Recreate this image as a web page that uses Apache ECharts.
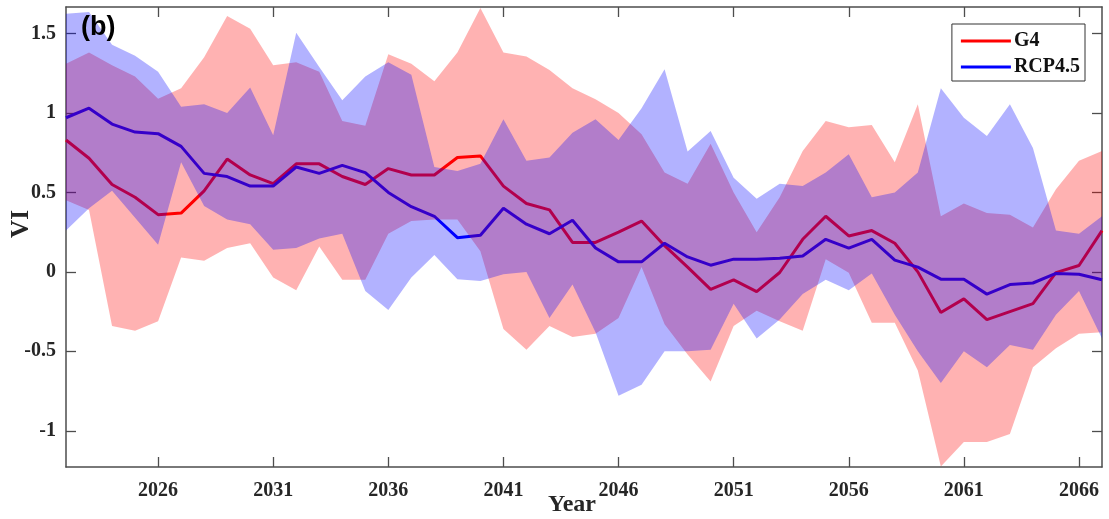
<!DOCTYPE html>
<html>
<head>
<meta charset="utf-8">
<title>VI G4 vs RCP4.5</title>
<script src="https://cdn.jsdelivr.net/npm/echarts@6/dist/echarts.min.js"></script>
<style>
  html, body { margin: 0; padding: 0; background: #fff; }
  #chart { width: 1109px; height: 519px; }
</style>
</head>
<body>
<div id="chart"></div>
<script>
// years on the x axis
const years = ['2022','2023','2024','2025','2026','2027','2028','2029','2030','2031',
  '2032','2033','2034','2035','2036','2037','2038','2039','2040','2041',
  '2042','2043','2044','2045','2046','2047','2048','2049','2050','2051',
  '2052','2053','2054','2055','2056','2057','2058','2059','2060','2061',
  '2062','2063','2064','2065','2066','2067'];

// G4 ensemble mean and spread
const g4Mean = [0.83, 0.715, 0.55, 0.47, 0.36, 0.37, 0.51, 0.71, 0.61, 0.555,
  0.68, 0.68, 0.60, 0.55, 0.65, 0.61, 0.61, 0.72, 0.73, 0.54,
  0.43, 0.39, 0.185, 0.185, 0.25, 0.32, 0.165, 0.03, -0.11, -0.05,
  -0.124, -0.004, 0.205, 0.35, 0.226, 0.26, 0.18, 0.0, -0.256, -0.17,
  -0.30, -0.25, -0.20, -0.005, 0.04, 0.26];
const g4Upper = [1.31, 1.38, 1.30, 1.23, 1.09, 1.155, 1.35, 1.61, 1.53, 1.30,
  1.32, 1.26, 0.95, 0.92, 1.37, 1.31, 1.20, 1.38, 1.66, 1.38,
  1.355, 1.27, 1.155, 1.086, 1.0, 0.866, 0.625, 0.555, 0.807, 0.50,
  0.25, 0.47, 0.76, 0.95, 0.91, 0.925, 0.69, 1.055, 0.35, 0.43,
  0.37, 0.36, 0.28, 0.52, 0.70, 0.76];
const g4Lower = [0.45, 0.39, -0.34, -0.37, -0.31, 0.09, 0.07, 0.15, 0.18, -0.035,
  -0.115, 0.16, -0.05, -0.05, 0.24, 0.32, 0.33, 0.33, 0.13, -0.36,
  -0.49, -0.34, -0.41, -0.39, -0.29, 0.03, -0.33, -0.52, -0.69, -0.34,
  -0.245, -0.31, -0.37, 0.08, -0.005, -0.32, -0.32, -0.62, -1.225, -1.07,
  -1.07, -1.02, -0.60, -0.48, -0.39, -0.38];

// RCP4.5 ensemble mean and spread
const rcpMean = [0.97, 1.03, 0.93, 0.88, 0.87, 0.79, 0.62, 0.60, 0.54, 0.54,
  0.66, 0.62, 0.67, 0.625, 0.50, 0.41, 0.35, 0.215, 0.23, 0.40,
  0.30, 0.24, 0.325, 0.15, 0.063, 0.063, 0.18, 0.094, 0.042, 0.08,
  0.08, 0.086, 0.10, 0.205, 0.15, 0.205, 0.074, 0.03, -0.046, -0.046,
  -0.14, -0.08, -0.07, -0.01, -0.015, -0.05];
const rcpUpper = [1.625, 1.635, 1.43, 1.36, 1.26, 1.04, 1.055, 1.0, 1.16, 0.86,
  1.505, 1.29, 1.08, 1.23, 1.32, 1.24, 0.66, 0.635, 0.68, 0.96,
  0.70, 0.72, 0.875, 0.96, 0.83, 1.03, 1.275, 0.757, 0.887, 0.593,
  0.46, 0.555, 0.54, 0.625, 0.74, 0.47, 0.50, 0.625, 1.155, 0.97,
  0.855, 1.055, 0.78, 0.26, 0.24, 0.35];
const rcpLower = [0.26, 0.40, 0.51, 0.34, 0.17, 0.69, 0.415, 0.33, 0.30, 0.14,
  0.15, 0.21, 0.24, -0.12, -0.24, -0.035, 0.107, -0.046, -0.057, -0.015,
  0.0, -0.29, -0.08, -0.38, -0.78, -0.71, -0.50, -0.50, -0.49, -0.20,
  -0.42, -0.30, -0.14, -0.05, -0.115, -0.01, -0.27, -0.50, -0.70, -0.50,
  -0.60, -0.46, -0.49, -0.27, -0.12, -0.42];

const yTicks = [-1, -0.5, 0, 0.5, 1, 1.5];
const yMin = -1.228;
const yMax = 1.667;

const chart = echarts.init(document.getElementById('chart'));

const axisColor = '#4d4d4d';
const labelFont = { fontFamily: 'Liberation Serif', fontWeight: 'bold', fontSize: 20, color: '#262626' };
const showYear = (i) => (Number(years[i]) - 2026) % 5 === 0;

// band thickness for stacking on top of the lower bound
const g4Span = g4Upper.map((u, i) => u - g4Lower[i]);
const rcpSpan = rcpUpper.map((u, i) => u - rcpLower[i]);

const bandBase = (name, data, stack, z) => ({
  name, type: 'line', data, stack, stackStrategy: 'all',
  symbol: 'none', lineStyle: { opacity: 0 }, z, silent: true
});
const bandFill = (name, data, stack, color, z) => ({
  name, type: 'line', data, stack, stackStrategy: 'all',
  symbol: 'none', lineStyle: { opacity: 0 },
  areaStyle: { color, opacity: 1 }, z, silent: true
});

const option = {
  animation: false,
  grid: { left: 66, right: 7, top: 7, bottom: 52, containLabel: false, outerBoundsMode: 'none' },
  legend: {
    data: ['G4', 'RCP4.5'],
    orient: 'vertical',
    right: 24,
    top: 24,
    backgroundColor: '#fff',
    borderColor: '#333',
    borderWidth: 1,
    padding: [7, 5, 4, 9],
    itemGap: 6,
    itemWidth: 50,
    itemHeight: 3,
    icon: 'rect',
    textStyle: { fontFamily: 'Liberation Serif', fontWeight: 'bold', fontSize: 20, color: '#111', padding: [0, 0, 0, -2] }
  },
  xAxis: [
    {
      type: 'category',
      data: years,
      boundaryGap: false,
      position: 'bottom',
      axisLine: { onZero: false, lineStyle: { color: axisColor, width: 1.5 } },
      axisTick: { inside: true, length: 10, interval: showYear, lineStyle: { color: axisColor, width: 1.3 } },
      axisLabel: Object.assign({ interval: showYear, margin: 14 }, labelFont),
      splitLine: { show: false }
    },
    {
      type: 'category',
      data: years,
      boundaryGap: false,
      position: 'top',
      axisLine: { onZero: false, lineStyle: { color: axisColor, width: 1.5 } },
      axisTick: { inside: true, length: 10, interval: showYear, lineStyle: { color: axisColor, width: 1.3 } },
      axisLabel: { show: false },
      splitLine: { show: false }
    }
  ],
  yAxis: [
    {
      type: 'value',
      min: yMin,
      max: yMax,
      position: 'left',
      axisLine: { show: true, onZero: false, lineStyle: { color: axisColor, width: 1.5 } },
      axisTick: { show: true, inside: true, length: 10, customValues: yTicks, lineStyle: { color: axisColor, width: 1.3 } },
      axisLabel: Object.assign({ customValues: yTicks, margin: 10, formatter: v => String(v) }, labelFont),
      splitLine: { show: false }
    },
    {
      type: 'value',
      min: yMin,
      max: yMax,
      position: 'right',
      axisLine: { show: true, onZero: false, lineStyle: { color: axisColor, width: 1.5 } },
      axisTick: { show: true, inside: true, length: 10, customValues: yTicks, lineStyle: { color: axisColor, width: 1.3 } },
      axisLabel: { show: false },
      splitLine: { show: false }
    }
  ],
  graphic: [
    {
      type: 'text', left: 81, top: 14, z: 100,
      style: { text: '(b)', font: 'bold 27px "Liberation Sans", Arial, sans-serif', fill: '#000' }
    },
    {
      type: 'text', x: 22, y: 224, rotation: Math.PI / 2, z: 100,
      style: { text: 'VI', font: 'bold 25px "Liberation Serif", serif', fill: '#262626', align: 'center', verticalAlign: 'middle' }
    },
    {
      type: 'text', x: 572, y: 505, z: 100,
      style: { text: 'Year', font: 'bold 24px "Liberation Serif", serif', fill: '#262626', align: 'center', verticalAlign: 'middle' }
    }
  ],
  series: [
    {
      name: 'G4', type: 'line', data: g4Mean, symbol: 'none', z: 2,
      color: '#ff0000', lineStyle: { color: '#ff0000', width: 3 }
    },
    {
      name: 'RCP4.5', type: 'line', data: rcpMean, symbol: 'none', z: 2,
      color: '#0000ff', lineStyle: { color: '#0000ff', width: 3 }
    },
    bandBase('g4-low', g4Lower, 'g4band', 3),
    bandFill('g4-band', g4Span, 'g4band', 'rgba(255,0,0,0.3)', 3),
    bandBase('rcp-low', rcpLower, 'rcpband', 4),
    bandFill('rcp-band', rcpSpan, 'rcpband', 'rgba(0,0,255,0.3)', 4)
  ]
};

chart.setOption(option);
window.addEventListener('resize', () => chart.resize());
</script>
</body>
</html>
